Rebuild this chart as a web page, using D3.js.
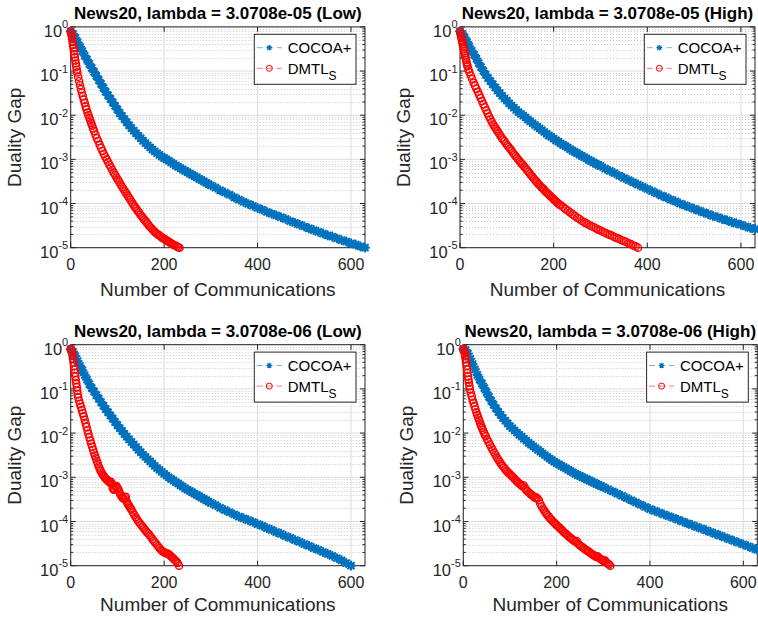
<!DOCTYPE html>
<html><head><meta charset="utf-8">
<script src="https://cdn.jsdelivr.net/npm/d3@7"></script>
<style>
body{margin:0;background:#fff}
text{font-family:Arial,"Liberation Sans",Helvetica,sans-serif;fill:#262626}
</style>
</head><body>
<svg id="chart" width="758" height="619"></svg>
<script>
// ---------------- DATA ----------------
const seriesNames = ["COCOA+", "DMTL"];
const seriesSub = ["", "S"];
const panelTitles = [
  "News20, lambda = 3.0708e-05 (Low)",
  "News20, lambda = 3.0708e-05 (High)",
  "News20, lambda = 3.0708e-06 (Low)",
  "News20, lambda = 3.0708e-06 (High)"
];
const xTickValues = [0, 200, 400, 600];
const yTickExponents = [0, -1, -2, -3, -4, -5];
const xAxisMax = 630;
const yLabel = "Duality Gap";
const xLabel = "Number of Communications";

// communications at which COCOA+ values were read
const cocoaIters = [0,5,10,15,20,25,30,35,40,45,50,55,60,65,70,75,80,85,90,95,100,
  105,110,115,120,125,130,135,140,145,150,155,160,165,170,175,180,185,190,195,200,
  205,210,215,220,225,230,235,240,245,250,255,260,265,270,275,280,285,290,295,300,
  310,320,330,340,350,360,370,380,390,400,410,420,430,440,450,460,470,480,490,500,
  510,520,530,540,550,560,570,580,590,600,610,620,630];

// log10(duality gap)
const p1CocoaLog = [-0.10,-0.16,-0.25,-0.35,-0.45,-0.55,-0.65,-0.74,-0.84,-0.93,-1.02,-1.11,-1.20,-1.29,-1.38,-1.47,-1.55,-1.63,-1.71,-1.79,-1.87,
  -1.95,-2.02,-2.09,-2.16,-2.23,-2.29,-2.35,-2.41,-2.47,-2.52,-2.58,-2.63,-2.68,-2.73,-2.78,-2.82,-2.86,-2.90,-2.94,-2.97,
  -3.00,-3.03,-3.07,-3.10,-3.14,-3.17,-3.20,-3.23,-3.26,-3.29,-3.32,-3.35,-3.38,-3.41,-3.44,-3.47,-3.50,-3.53,-3.56,-3.59,
  -3.64,-3.70,-3.75,-3.80,-3.86,-3.91,-3.96,-4.01,-4.05,-4.10,
  -4.14,-4.19,-4.23,-4.27,-4.31,-4.35,-4.40,-4.44,-4.48,-4.52,
  -4.56,-4.60,-4.64,-4.68,-4.72,-4.75,-4.79,-4.83,-4.86,-4.90,
  -4.93,-4.97,-5.00];
const p2CocoaLog = [-0.10,-0.15,-0.24,-0.34,-0.44,-0.54,-0.63,-0.72,-0.82,-0.91,-1.00,-1.08,-1.16,-1.23,-1.30,-1.37,-1.44,-1.50,-1.56,-1.62,-1.67,
  -1.73,-1.78,-1.83,-1.88,-1.93,-1.97,-2.01,-2.05,-2.10,-2.14,-2.18,-2.22,-2.26,-2.30,-2.34,-2.38,-2.42,-2.46,-2.49,-2.53,
  -2.57,-2.60,-2.64,-2.67,-2.70,-2.73,-2.77,-2.80,-2.83,-2.86,-2.89,-2.92,-2.95,-2.98,-3.01,-3.04,-3.07,-3.10,-3.12,-3.15,
  -3.21,-3.26,-3.31,-3.37,-3.42,-3.47,-3.52,-3.57,-3.62,-3.67,
  -3.72,-3.77,-3.82,-3.86,-3.91,-3.95,-4.00,-4.04,-4.08,-4.12,
  -4.16,-4.20,-4.24,-4.28,-4.31,-4.35,-4.38,-4.42,-4.45,-4.48,
  -4.52,-4.55,-4.58];
const p3CocoaLog = [-0.10,-0.16,-0.26,-0.37,-0.48,-0.58,-0.69,-0.79,-0.89,-0.98,-1.06,-1.14,-1.22,-1.30,-1.38,-1.46,-1.53,-1.60,-1.67,-1.75,-1.82,
  -1.89,-1.95,-2.02,-2.08,-2.14,-2.20,-2.26,-2.32,-2.38,-2.43,-2.49,-2.54,-2.59,-2.64,-2.69,-2.74,-2.79,-2.83,-2.88,-2.92,
  -2.96,-3.00,-3.04,-3.07,-3.11,-3.14,-3.18,-3.21,-3.25,-3.28,-3.31,-3.34,-3.37,-3.40,-3.43,-3.46,-3.49,-3.52,-3.55,-3.58,
  -3.63,-3.69,-3.74,-3.79,-3.84,-3.89,-3.93,-3.97,-4.01,-4.06,
  -4.10,-4.15,-4.19,-4.24,-4.28,-4.33,-4.37,-4.42,-4.46,-4.51,
  -4.55,-4.60,-4.64,-4.69,-4.73,-4.78,-4.83,-4.88,-4.94,-5.00];
const p4CocoaLog = [-0.10,-0.12,-0.20,-0.32,-0.44,-0.56,-0.68,-0.79,-0.88,-0.98,-1.08,-1.18,-1.27,-1.36,-1.44,-1.52,-1.59,-1.66,-1.72,-1.78,-1.84,
  -1.89,-1.94,-1.99,-2.04,-2.08,-2.13,-2.17,-2.22,-2.26,-2.30,-2.34,-2.38,-2.42,-2.46,-2.50,-2.54,-2.58,-2.61,-2.65,-2.68,
  -2.71,-2.74,-2.77,-2.80,-2.83,-2.86,-2.89,-2.92,-2.95,-2.97,-3.00,-3.02,-3.05,-3.07,-3.10,-3.12,-3.15,-3.17,-3.20,-3.22,
  -3.27,-3.32,-3.37,-3.42,-3.47,-3.52,-3.57,-3.62,-3.67,-3.72,
  -3.76,-3.80,-3.84,-3.88,-3.92,-3.96,-4.00,-4.04,-4.08,-4.12,
  -4.16,-4.20,-4.24,-4.28,-4.32,-4.36,-4.40,-4.44,-4.48,-4.52,
  -4.56,-4.60,-4.64];

// DMTL_S: communications and log10(duality gap)
const p1DmtlIters = [0,1,2,3,4,5,6,7,8,9,10,11,12,13,14,
  16,18,20,22,24,26,28,30,32,34,36,38,40,42,44,46,48,50,
  53,56,59,62,65,68,71,74,77,80,83,86,89,92,95,98,101,104,107,110,113,116,119,122,125,128,131,134,
  137,140,143,146,149,152,155,158,161,164,167,170,173,176,179,182,185,188,191,194,197,200,203,206,
  209,212,215,218,221,224,227,230,233];
const p1DmtlLog = [-0.10,-0.14,-0.20,-0.27,-0.34,-0.41,-0.48,-0.55,-0.62,-0.69,-0.76,-0.83,-0.90,-0.97,-1.03,
  -1.13,-1.23,-1.32,-1.41,-1.49,-1.57,-1.65,-1.72,-1.80,-1.87,-1.94,-2.00,-2.06,-2.12,-2.18,-2.24,-2.30,-2.36,
  -2.44,-2.52,-2.59,-2.67,-2.74,-2.81,-2.88,-2.94,-3.00,-3.06,
  -3.12,-3.18,-3.24,-3.30,-3.35,-3.41,-3.46,-3.51,-3.57,-3.62,
  -3.67,-3.72,-3.77,-3.82,-3.87,-3.92,-3.97,-4.02,-4.07,-4.11,
  -4.16,-4.20,-4.25,-4.29,-4.33,-4.37,-4.41,-4.45,-4.49,-4.53,
  -4.56,-4.60,-4.63,-4.66,-4.69,-4.71,-4.73,-4.76,-4.78,-4.80,
  -4.82,-4.84,-4.86,-4.88,-4.90,-4.92,-4.94,-4.95,-4.97,-4.99,-5.00];

const p2DmtlIters = [0,1,2,3,4,5,6,7,8,9,10,11,12,13,14,15,16,18,20,
  23,26,29,32,35,38,41,44,47,50,53,56,59,62,65,68,71,74,77,80,83,86,89,92,95,98,101,104,107,110,
  113,116,119,122,125,128,131,134,137,140,143,146,149,152,155,158,161,164,167,170,
  173,176,179,182,185,188,191,194,197,200,203,206,209,212,
  215,220,225,230,235,240,245,250,255,260,265,270,275,280,285,290,295,300,305,310,
  315,320,325,330,335,340,345,350,355,360,365,370,375,380];
const p2DmtlLog = [-0.10,-0.15,-0.20,-0.25,-0.30,-0.35,-0.40,-0.45,-0.50,-0.55,-0.60,-0.65,-0.70,-0.75,-0.80,-0.85,-0.89,-0.96,-1.02,
  -1.10,-1.18,-1.26,-1.33,-1.40,-1.47,-1.54,-1.61,-1.68,-1.75,
  -1.82,-1.89,-1.96,-2.03,-2.09,-2.15,-2.21,-2.26,-2.31,-2.36,
  -2.41,-2.46,-2.51,-2.55,-2.59,-2.64,-2.68,-2.72,-2.76,-2.80,
  -2.85,-2.89,-2.93,-2.97,-3.01,-3.05,-3.09,-3.12,-3.16,-3.20,
  -3.24,-3.28,-3.32,-3.36,-3.40,-3.44,-3.48,-3.51,-3.55,-3.58,
  -3.62,-3.65,-3.68,-3.72,-3.75,-3.78,-3.81,-3.84,-3.87,-3.90,
  -3.93,-3.96,-3.99,-4.02,
  -4.04,-4.08,-4.12,-4.16,-4.20,-4.24,-4.28,-4.32,-4.35,-4.39,
  -4.42,-4.45,-4.48,-4.51,-4.53,-4.56,-4.59,-4.61,-4.64,-4.66,
  -4.69,-4.71,-4.73,-4.76,-4.78,-4.80,-4.83,-4.85,-4.87,-4.90,
  -4.92,-4.95,-4.97,-5.00];

const p3DmtlIters = [0,1,2,3,4,5,6,7,8,9,10,11,12,13,14,15,16,
  18,20,22,24,26,28,30,32,34,36,38,40,42,44,46,48,50,52,54,56,58,60,62,64,66,68,70,72,74,76,
  78,80,82,84,86,88,90,92,94,96,98,100,102,104,106,108,110,112,114,116,118,120,122,124,126,128,130,
  133,136,139,142,145,148,151,154,157,160,163,166,169,172,175,178,181,184,187,190,
  193,196,199,202,205,208,211,214,217,220,223,226,229,232];
const p3DmtlLog = [-0.10,-0.11,-0.12,-0.18,-0.25,-0.32,-0.40,-0.48,-0.56,-0.64,-0.72,-0.80,-0.88,-0.96,-1.04,-1.12,-1.19,
  -1.27,-1.34,-1.41,-1.48,-1.55,-1.62,-1.70,-1.78,-1.86,-1.94,
  -2.02,-2.10,-2.17,-2.24,-2.31,-2.38,-2.45,-2.51,-2.57,-2.63,
  -2.69,-2.75,-2.80,-2.85,-2.89,-2.93,-2.96,-2.99,-3.02,-3.04,
  -3.06,-3.08,-3.10,-3.12,-3.10,-3.14,-3.24,-3.28,-3.27,-3.22,
  -3.20,-3.24,-3.27,-3.32,-3.38,-3.42,-3.45,-3.47,-3.49,-3.45,
  -3.44,-3.55,-3.60,-3.63,-3.66,-3.70,-3.73,
  -3.79,-3.85,-3.90,-3.95,-4.00,-4.04,-4.08,-4.12,-4.16,-4.20,
  -4.24,-4.27,-4.31,-4.35,-4.40,-4.44,-4.48,-4.52,-4.56,-4.60,
  -4.64,-4.67,-4.69,-4.71,-4.72,-4.73,-4.75,-4.78,-4.81,-4.84,
  -4.87,-4.90,-4.94,-5.00];

const p4DmtlIters = [0,1,2,3,4,5,6,7,8,9,10,11,12,13,14,
  16,18,20,22,24,26,28,30,32,34,36,38,40,42,44,46,48,
  51,54,57,60,63,66,69,72,75,78,81,84,87,90,93,96,99,102,105,108,
  111,114,117,120,123,126,129,132,135,138,141,144,147,150,153,156,159,162,165,168,
  171,174,177,180,183,186,189,192,195,198,201,204,207,210,213,216,219,222,225,228,
  231,234,237,240,243,246,249,252,255,258,261,264,267,270,273,276,279,282,285,288,
  291,294,297,300,303,306,309,312,315];
const p4DmtlLog = [-0.10,-0.12,-0.15,-0.20,-0.26,-0.33,-0.40,-0.48,-0.56,-0.64,-0.72,-0.79,-0.86,-0.93,-1.00,
  -1.09,-1.17,-1.25,-1.32,-1.39,-1.46,-1.53,-1.59,-1.65,-1.71,-1.77,-1.83,-1.88,-1.93,-1.98,-2.03,-2.07,
  -2.14,-2.20,-2.26,-2.32,-2.38,-2.44,-2.49,-2.55,-2.60,-2.65,
  -2.70,-2.74,-2.78,-2.82,-2.86,-2.89,-2.92,-2.95,-2.98,-3.01,
  -3.05,-3.08,-3.11,-3.14,-3.17,-3.20,-3.18,-3.24,-3.29,-3.32,
  -3.35,-3.38,-3.40,-3.43,-3.46,-3.45,-3.48,-3.52,-3.60,-3.66,
  -3.71,-3.76,-3.81,-3.85,-3.89,-3.93,-3.96,-4.00,-4.03,-4.06,
  -4.09,-4.12,-4.15,-4.18,-4.21,-4.25,-4.27,-4.30,-4.33,-4.36,
  -4.38,-4.41,-4.43,-4.46,-4.44,-4.50,-4.53,-4.56,-4.58,-4.60,
  -4.63,-4.65,-4.67,-4.69,-4.72,-4.74,-4.76,-4.78,-4.80,-4.79,
  -4.82,-4.85,-4.87,-4.89,-4.88,-4.92,-4.95,-4.97,-5.00];

// ---------------- LAYOUT / STYLE ----------------
const colors = {cocoa: "#0072BD", dmtl: "#FF0000", axis: "#262626"};
const toPts = (xs, ls) => xs.map((x, i) => ({x: x, v: Math.pow(10, ls[i])}));

const panels = [
  {title: panelTitles[0], L: 70.7, R: 365, T: 26.9, B: 247.7, xlabY: 296,
   cocoa: toPts(cocoaIters, p1CocoaLog), dmtl: toPts(p1DmtlIters, p1DmtlLog)},
  {title: panelTitles[1], L: 460, R: 755, T: 26.9, B: 247.7, xlabY: 296,
   cocoa: toPts(cocoaIters, p2CocoaLog), dmtl: toPts(p2DmtlIters, p2DmtlLog)},
  {title: panelTitles[2], L: 70.7, R: 365, T: 344.7, B: 565.7, xlabY: 611,
   cocoa: toPts(cocoaIters.slice(0, p3CocoaLog.length), p3CocoaLog), dmtl: toPts(p3DmtlIters, p3DmtlLog)},
  {title: panelTitles[3], L: 463.3, R: 757.3, T: 344.7, B: 565.7, xlabY: 611,
   cocoa: toPts(cocoaIters, p4CocoaLog), dmtl: toPts(p4DmtlIters, p4DmtlLog)}
];

const svg = d3.select("#chart");
svg.append("rect").attr("width", 758).attr("height", 619).attr("fill", "#fff");

function starPath(s) {
  const d = s * 0.72;
  return `M${-s},0H${s}M0,${-s}V${s}M${-d},${-d}L${d},${d}M${-d},${d}L${d},${-d}`;
}

panels.forEach(p => {
  const g = svg.append("g");
  const x = d3.scaleLinear().domain([0, xAxisMax]).range([p.L, p.R]);
  const y = d3.scaleLog().domain([1e-5, 1]).range([p.B, p.T]);

  g.append("rect").attr("x", p.L).attr("y", p.T).attr("width", p.R - p.L).attr("height", p.B - p.T).attr("fill", "#fff");

  // minor grid (horizontal, dotted)
  const minorVals = [];
  yTickExponents.slice(0, -1).forEach(e => {
    for (let k = 2; k <= 9; k++) minorVals.push(k * Math.pow(10, e - 1));
  });
  g.selectAll(".mg").data(minorVals).join("line")
    .attr("x1", p.L).attr("x2", p.R)
    .attr("y1", d => Math.round(y(d)) + 0.5).attr("y2", d => Math.round(y(d)) + 0.5)
    .attr("stroke", "#c8c8c8").attr("stroke-width", 1).attr("stroke-dasharray", "1,2");

  // major grid
  g.selectAll(".gy").data(yTickExponents.map(e => Math.pow(10, e))).join("line")
    .attr("x1", p.L).attr("x2", p.R)
    .attr("y1", d => y(d)).attr("y2", d => y(d))
    .attr("stroke", "#dcdcdc").attr("stroke-width", 1);
  g.selectAll(".gx").data(xTickValues).join("line")
    .attr("x1", d => x(d)).attr("x2", d => x(d))
    .attr("y1", p.T).attr("y2", p.B)
    .attr("stroke", "#dcdcdc").attr("stroke-width", 1);

  // axes box
  g.append("rect").attr("x", p.L).attr("y", p.T).attr("width", p.R - p.L).attr("height", p.B - p.T)
    .attr("fill", "none").attr("stroke", colors.axis).attr("stroke-width", 1);

  // ticks, inward on all sides
  const ticksG = g.append("g").attr("stroke", colors.axis).attr("stroke-width", 1);
  yTickExponents.forEach(e => {
    const yy = y(Math.pow(10, e));
    ticksG.append("line").attr("x1", p.L).attr("x2", p.L + 5).attr("y1", yy).attr("y2", yy);
    ticksG.append("line").attr("x1", p.R).attr("x2", p.R - 5).attr("y1", yy).attr("y2", yy);
  });
  minorVals.forEach(v => {
    const yy = y(v);
    ticksG.append("line").attr("x1", p.L).attr("x2", p.L + 2.5).attr("y1", yy).attr("y2", yy);
    ticksG.append("line").attr("x1", p.R).attr("x2", p.R - 2.5).attr("y1", yy).attr("y2", yy);
  });
  xTickValues.forEach(v => {
    const xx = x(v);
    ticksG.append("line").attr("x1", xx).attr("x2", xx).attr("y1", p.B).attr("y2", p.B - 5);
    ticksG.append("line").attr("x1", xx).attr("x2", xx).attr("y1", p.T).attr("y2", p.T + 5);
  });

  // y tick labels: 10^e
  yTickExponents.forEach(e => {
    const t = g.append("text").attr("x", p.L - 2.5).attr("y", y(Math.pow(10, e)) + 10)
      .attr("text-anchor", "end").attr("font-size", 16.5);
    t.append("tspan").text("10");
    t.append("tspan").attr("dy", -8.5).attr("font-size", 11).text(String(e));
  });
  g.selectAll(".xt").data(xTickValues).join("text")
    .attr("x", d => x(d)).attr("y", p.B + 22).attr("text-anchor", "middle")
    .attr("font-size", 16).text(d => d);

  // labels
  g.append("text").attr("x", (p.L + p.R) / 2).attr("y", p.T - 7.5).attr("text-anchor", "middle")
    .attr("font-size", 17).attr("font-weight", "bold").style("fill", "#000").text(p.title);
  g.append("text").attr("x", (p.L + p.R) / 2).attr("y", p.xlabY).attr("text-anchor", "middle")
    .attr("font-size", 19).text(xLabel);
  g.append("text").attr("transform", `translate(${p.L - 50},${(p.T + p.B) / 2}) rotate(-90)`)
    .attr("text-anchor", "middle").attr("font-size", 19).text(yLabel);

  // series
  const line = d3.line().x(d => x(d.x)).y(d => y(d.v));
  g.append("path").datum(p.cocoa).attr("d", line).attr("fill", "none")
    .attr("stroke", colors.cocoa).attr("stroke-opacity", 0.55).attr("stroke-dasharray", "6,4");
  g.append("g").selectAll("path").data(p.cocoa).join("path")
    .attr("transform", d => `translate(${x(d.x)},${y(d.v)})`)
    .attr("d", starPath(3.9)).attr("fill", "none").attr("stroke", colors.cocoa)
    .attr("stroke-width", 2.3).attr("stroke-linecap", "round");

  g.append("path").datum(p.dmtl).attr("d", line).attr("fill", "none")
    .attr("stroke", colors.dmtl).attr("stroke-opacity", 0.55).attr("stroke-dasharray", "6,4");
  g.append("g").selectAll("circle").data(p.dmtl).join("circle")
    .attr("cx", d => x(d.x)).attr("cy", d => y(d.v)).attr("r", 3.6)
    .attr("fill", "none").attr("stroke", colors.dmtl).attr("stroke-width", 1.4);

  // legend
  const lx = p.R - 110.7, ly = p.T + 7.4, lw = 101.7, lh = 50;
  const lg = g.append("g");
  lg.append("rect").attr("x", lx).attr("y", ly).attr("width", lw).attr("height", lh)
    .attr("fill", "#fff").attr("stroke", colors.axis).attr("stroke-width", 1);
  const entries = [
    {name: seriesNames[0], sub: seriesSub[0], color: colors.cocoa, marker: "star", dy: 13.4},
    {name: seriesNames[1], sub: seriesSub[1], color: colors.dmtl, marker: "circle", dy: 34}
  ];
  entries.forEach(en => {
    const cy = ly + en.dy;
    lg.append("line").attr("x1", lx + 2.5).attr("x2", lx + 27.5).attr("y1", cy).attr("y2", cy)
      .attr("stroke", en.color).attr("stroke-opacity", 0.55).attr("stroke-dasharray", "6,4");
    if (en.marker === "star") {
      lg.append("path").attr("transform", `translate(${lx + 15},${cy})`).attr("d", starPath(2.8))
        .attr("fill", "none").attr("stroke", en.color).attr("stroke-width", 1.2);
    } else {
      lg.append("circle").attr("cx", lx + 15).attr("cy", cy).attr("r", 3)
        .attr("fill", "none").attr("stroke", en.color).attr("stroke-width", 1);
    }
    const t = lg.append("text").attr("x", lx + 33.4).attr("y", cy + 5.5).attr("font-size", 15).style("fill", "#000");
    t.append("tspan").text(en.name);
    if (en.sub) t.append("tspan").attr("dy", 6).attr("font-size", 12).text(en.sub);
  });
});
</script>
</body></html>
